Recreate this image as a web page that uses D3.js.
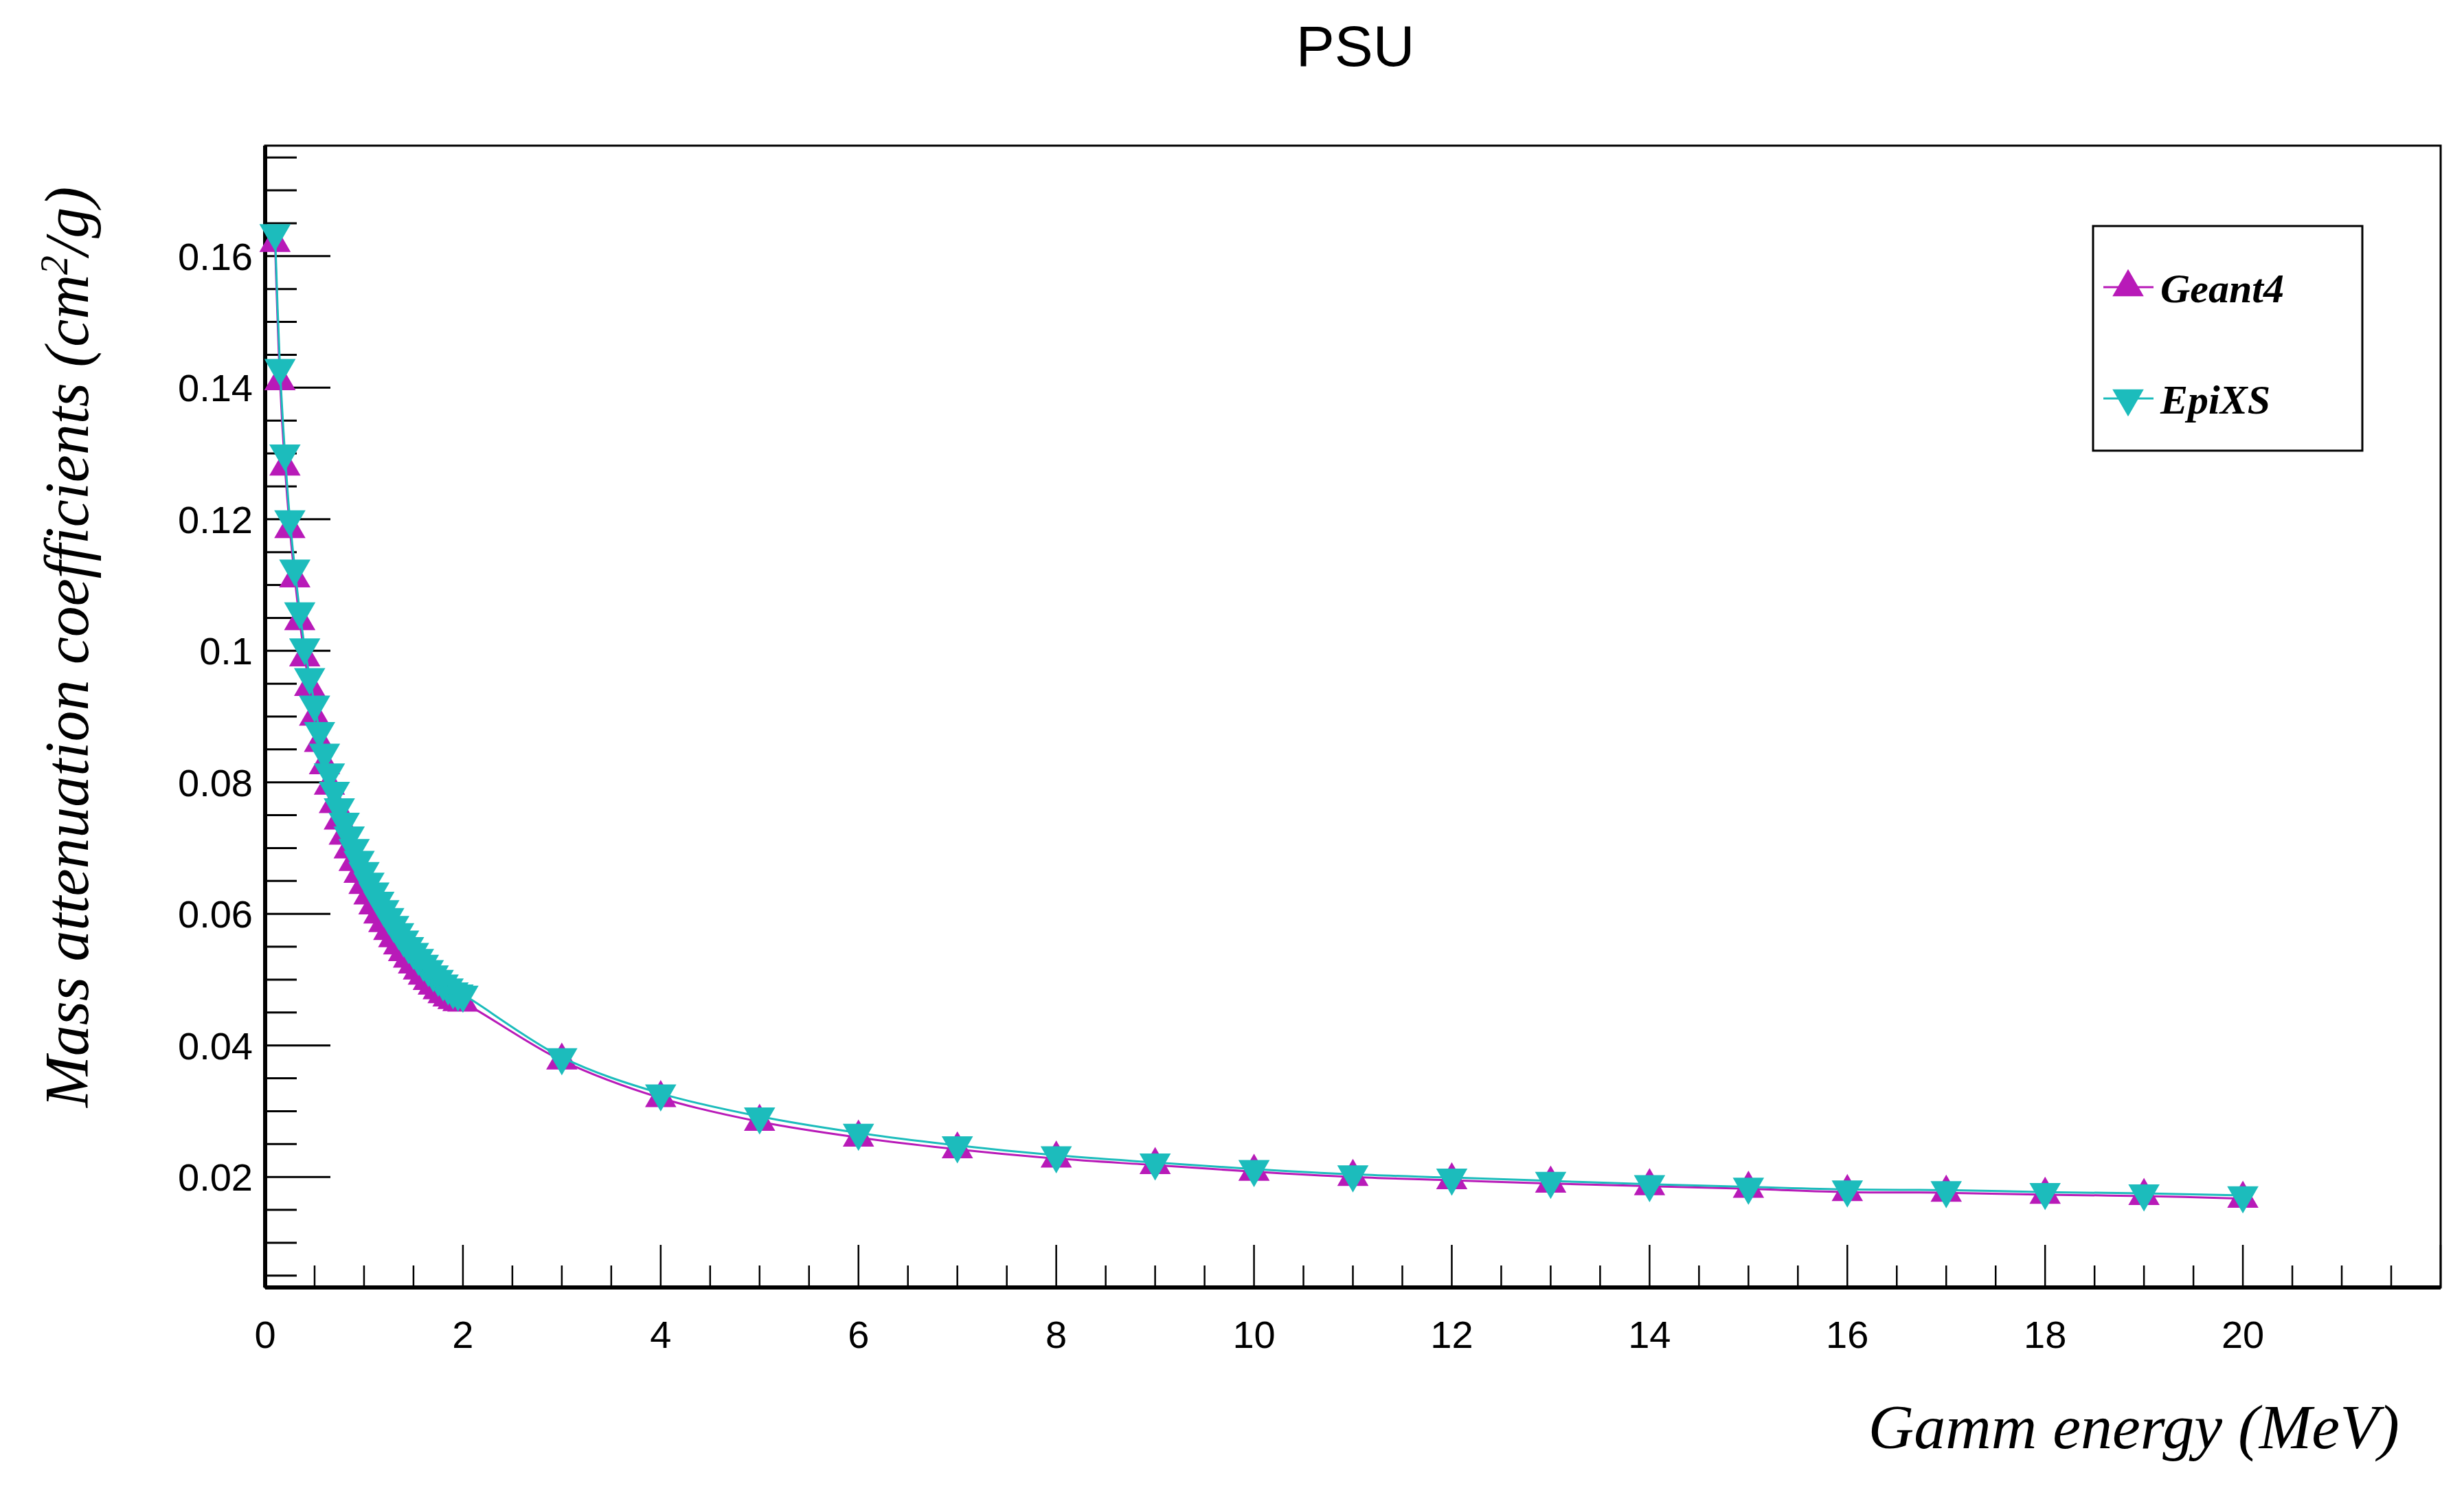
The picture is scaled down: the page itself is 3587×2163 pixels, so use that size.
<!DOCTYPE html>
<html><head><meta charset="utf-8">
<script src="https://cdn.jsdelivr.net/npm/d3@7"></script>
<style>body{margin:0;background:#fff}</style>
</head><body>
<div id="parentDiv"></div>
<script>
// data
const energyLow = [0.10,0.15,0.20,0.25,0.30,0.35,0.40,0.45,0.50,0.55,0.60,0.65,0.70,0.75,0.80,0.85,0.90,0.95,1.00,
  1.05,1.10,1.15,1.20,1.25,1.30,1.35,1.40,1.45,1.50,1.55,1.60,1.65,1.70,1.75,1.80,1.85,1.90,1.95,2.00];
const energyHigh = [3,4,5,6,7,8,9,10,11,12,13,14,15,16,17,18,19,20];
const epixsLow = [0.1635,0.1430,0.1300,0.1200,0.1125,0.1060,0.1005,0.0960,0.0918,0.0878,0.0845,0.0815,0.0787,0.0762,0.0740,0.0719,0.0700,0.0682,0.0665,
  0.0649,0.0634,0.0620,0.0607,0.0595,0.0583,0.0572,0.0561,0.0551,0.0542,0.0533,0.0524,0.0516,0.0508,0.0501,0.0494,0.0488,0.0482,0.0479,0.0477];
const epixsHigh = [0.0382,0.0327,0.0292,0.0267,0.0248,0.0233,0.0222,0.0212,0.0204,0.0199,0.0194,0.0189,0.0185,0.0181,0.0180,0.0177,0.0175,0.0172];
const geantLow = [0.1620,0.1410,0.1280,0.1185,0.1110,0.1045,0.0990,0.0945,0.0900,0.0860,0.0826,0.0795,0.0767,0.0742,0.0719,0.0698,0.0679,0.0661,0.0644,
  0.0628,0.0613,0.0599,0.0586,0.0574,0.0563,0.0552,0.0542,0.0532,0.0523,0.0514,0.0506,0.0498,0.0491,0.0484,0.0478,0.0473,0.0469,0.0466,0.0465];
const geantHigh = [0.0377,0.0320,0.0284,0.0260,0.0242,0.0228,0.0218,0.0208,0.0200,0.0195,0.0190,0.0186,0.0182,0.0177,0.0176,0.0173,0.0171,0.0167];
const yTicks = [0.02,0.04,0.06,0.08,0.1,0.12,0.14,0.16];
const xTicks = [0,2,4,6,8,10,12,14,16,18,20];

const energy = energyLow.concat(energyHigh);
const series = [
  {name: "Geant4", values: geantLow.concat(geantHigh), color: "#b81ab8", symbol: "up"},
  {name: "EpiXS", values: epixsLow.concat(epixsHigh), color: "#1cbcbc", symbol: "down"}
];

const width = 3587, height = 2163;
const plotLeft = 386, plotRight = 3553, plotTop = 212, plotBottom = 1874;

const svg = d3.select('#parentDiv').append('svg')
  .attr('width', width).attr('height', height);

const x = d3.scaleLinear().domain([0, 22]).range([plotLeft, plotRight]);
const y = d3.scaleLinear().domain([0.0032, 0.1768]).range([plotBottom, plotTop]);

// frame
svg.append('rect')
  .attr('x', plotLeft).attr('y', plotTop)
  .attr('width', plotRight - plotLeft).attr('height', plotBottom - plotTop)
  .attr('fill', 'none').attr('stroke', '#000').attr('stroke-width', 3);

// x ticks (inward)
const xMinor = d3.range(0, 22.01, 0.5);
svg.append('g').selectAll('line').data(xMinor).enter().append('line')
  .attr('x1', d => x(d)).attr('x2', d => x(d))
  .attr('y1', plotBottom)
  .attr('y2', d => plotBottom - (Math.abs(d % 2) < 1e-6 ? 62 : 32))
  .attr('stroke', '#000').attr('stroke-width', 2.5);
svg.append('line').attr('x1', plotLeft).attr('x2', plotRight).attr('y1', plotBottom).attr('y2', plotBottom)
  .attr('stroke', '#000').attr('stroke-width', 6);

svg.append('g').selectAll('text').data(xTicks).enter().append('text')
  .attr('x', d => x(d)).attr('y', plotBottom + 88)
  .attr('text-anchor', 'middle')
  .attr('font-family', 'Liberation Sans, Arial, sans-serif')
  .attr('font-size', 56)
  .text(d => d);

// y ticks (inward)
const yMinor = d3.range(0.005, 0.1768, 0.005);
svg.append('g').selectAll('line').data(yMinor).enter().append('line')
  .attr('x1', plotLeft)
  .attr('x2', d => plotLeft + (Math.round(d * 1000) % 20 === 0 ? 95 : 46))
  .attr('y1', d => y(d)).attr('y2', d => y(d))
  .attr('stroke', '#000').attr('stroke-width', 3);
svg.append('line').attr('x1', plotLeft).attr('x2', plotLeft).attr('y1', plotTop).attr('y2', plotBottom)
  .attr('stroke', '#000').attr('stroke-width', 6);

svg.append('g').selectAll('text').data(yTicks).enter().append('text')
  .attr('x', plotLeft - 18).attr('y', d => y(d) + 20)
  .attr('text-anchor', 'end')
  .attr('font-family', 'Liberation Sans, Arial, sans-serif')
  .attr('font-size', 56)
  .text(d => d);

// titles
svg.append('text')
  .attr('x', 1973).attr('y', 96)
  .attr('text-anchor', 'middle')
  .attr('font-family', 'Liberation Sans, Arial, sans-serif')
  .attr('font-size', 84)
  .text('PSU');

svg.append('text')
  .attr('x', plotRight - 60).attr('y', 2108)
  .attr('text-anchor', 'end')
  .attr('font-family', 'Liberation Serif, serif')
  .attr('font-style', 'italic')
  .attr('font-size', 92)
  .text('Gamm energy (MeV)');

const yl = svg.append('text')
  .attr('transform', 'translate(128,' + (plotTop + 730) + ') rotate(-90)')
  .attr('text-anchor', 'middle')
  .attr('font-family', 'Liberation Serif, serif')
  .attr('font-style', 'italic')
  .attr('font-size', 90);
yl.append('tspan').text('Mass attenuation coefficients (cm');
yl.append('tspan').attr('dy', -30).attr('font-size', 56).text('2');
yl.append('tspan').attr('dy', 30).text('/g)');

// lines and markers
const line = d3.line().curve(d3.curveCatmullRom)
  .x(d => x(d[0])).y(d => y(d[1]));
const tri = d3.symbol().type(d3.symbolTriangle).size(900);

series.forEach(s => {
  const pts = energy.map((e, i) => [e, s.values[i]]);
  svg.append('path').datum(pts)
    .attr('d', line).attr('fill', 'none')
    .attr('stroke', s.color).attr('stroke-width', 3);
  svg.append('g').selectAll('path').data(pts).enter().append('path')
    .attr('d', tri)
    .attr('transform', d => 'translate(' + x(d[0]) + ',' + y(d[1]) + ')' + (s.symbol === 'down' ? ' rotate(180)' : ''))
    .attr('fill', s.color);
});

// legend
const legend = svg.append('g');
legend.append('rect')
  .attr('x', 3047).attr('y', 329).attr('width', 392).attr('height', 327)
  .attr('fill', '#fff').attr('stroke', '#000').attr('stroke-width', 3);
series.forEach((s, i) => {
  const ly = 418 + i * 162;
  legend.append('line')
    .attr('x1', 3062).attr('x2', 3135).attr('y1', ly).attr('y2', ly)
    .attr('stroke', s.color).attr('stroke-width', 3);
  legend.append('path').attr('d', tri)
    .attr('transform', 'translate(3098,' + ly + ')' + (s.symbol === 'down' ? ' rotate(180)' : ''))
    .attr('fill', s.color);
  legend.append('text')
    .attr('x', 3145).attr('y', ly + 22)
    .attr('font-family', 'Liberation Serif, serif')
    .attr('font-style', 'italic').attr('font-weight', 'bold')
    .attr('font-size', 60)
    .text(s.name);
});
</script>
</body></html>
